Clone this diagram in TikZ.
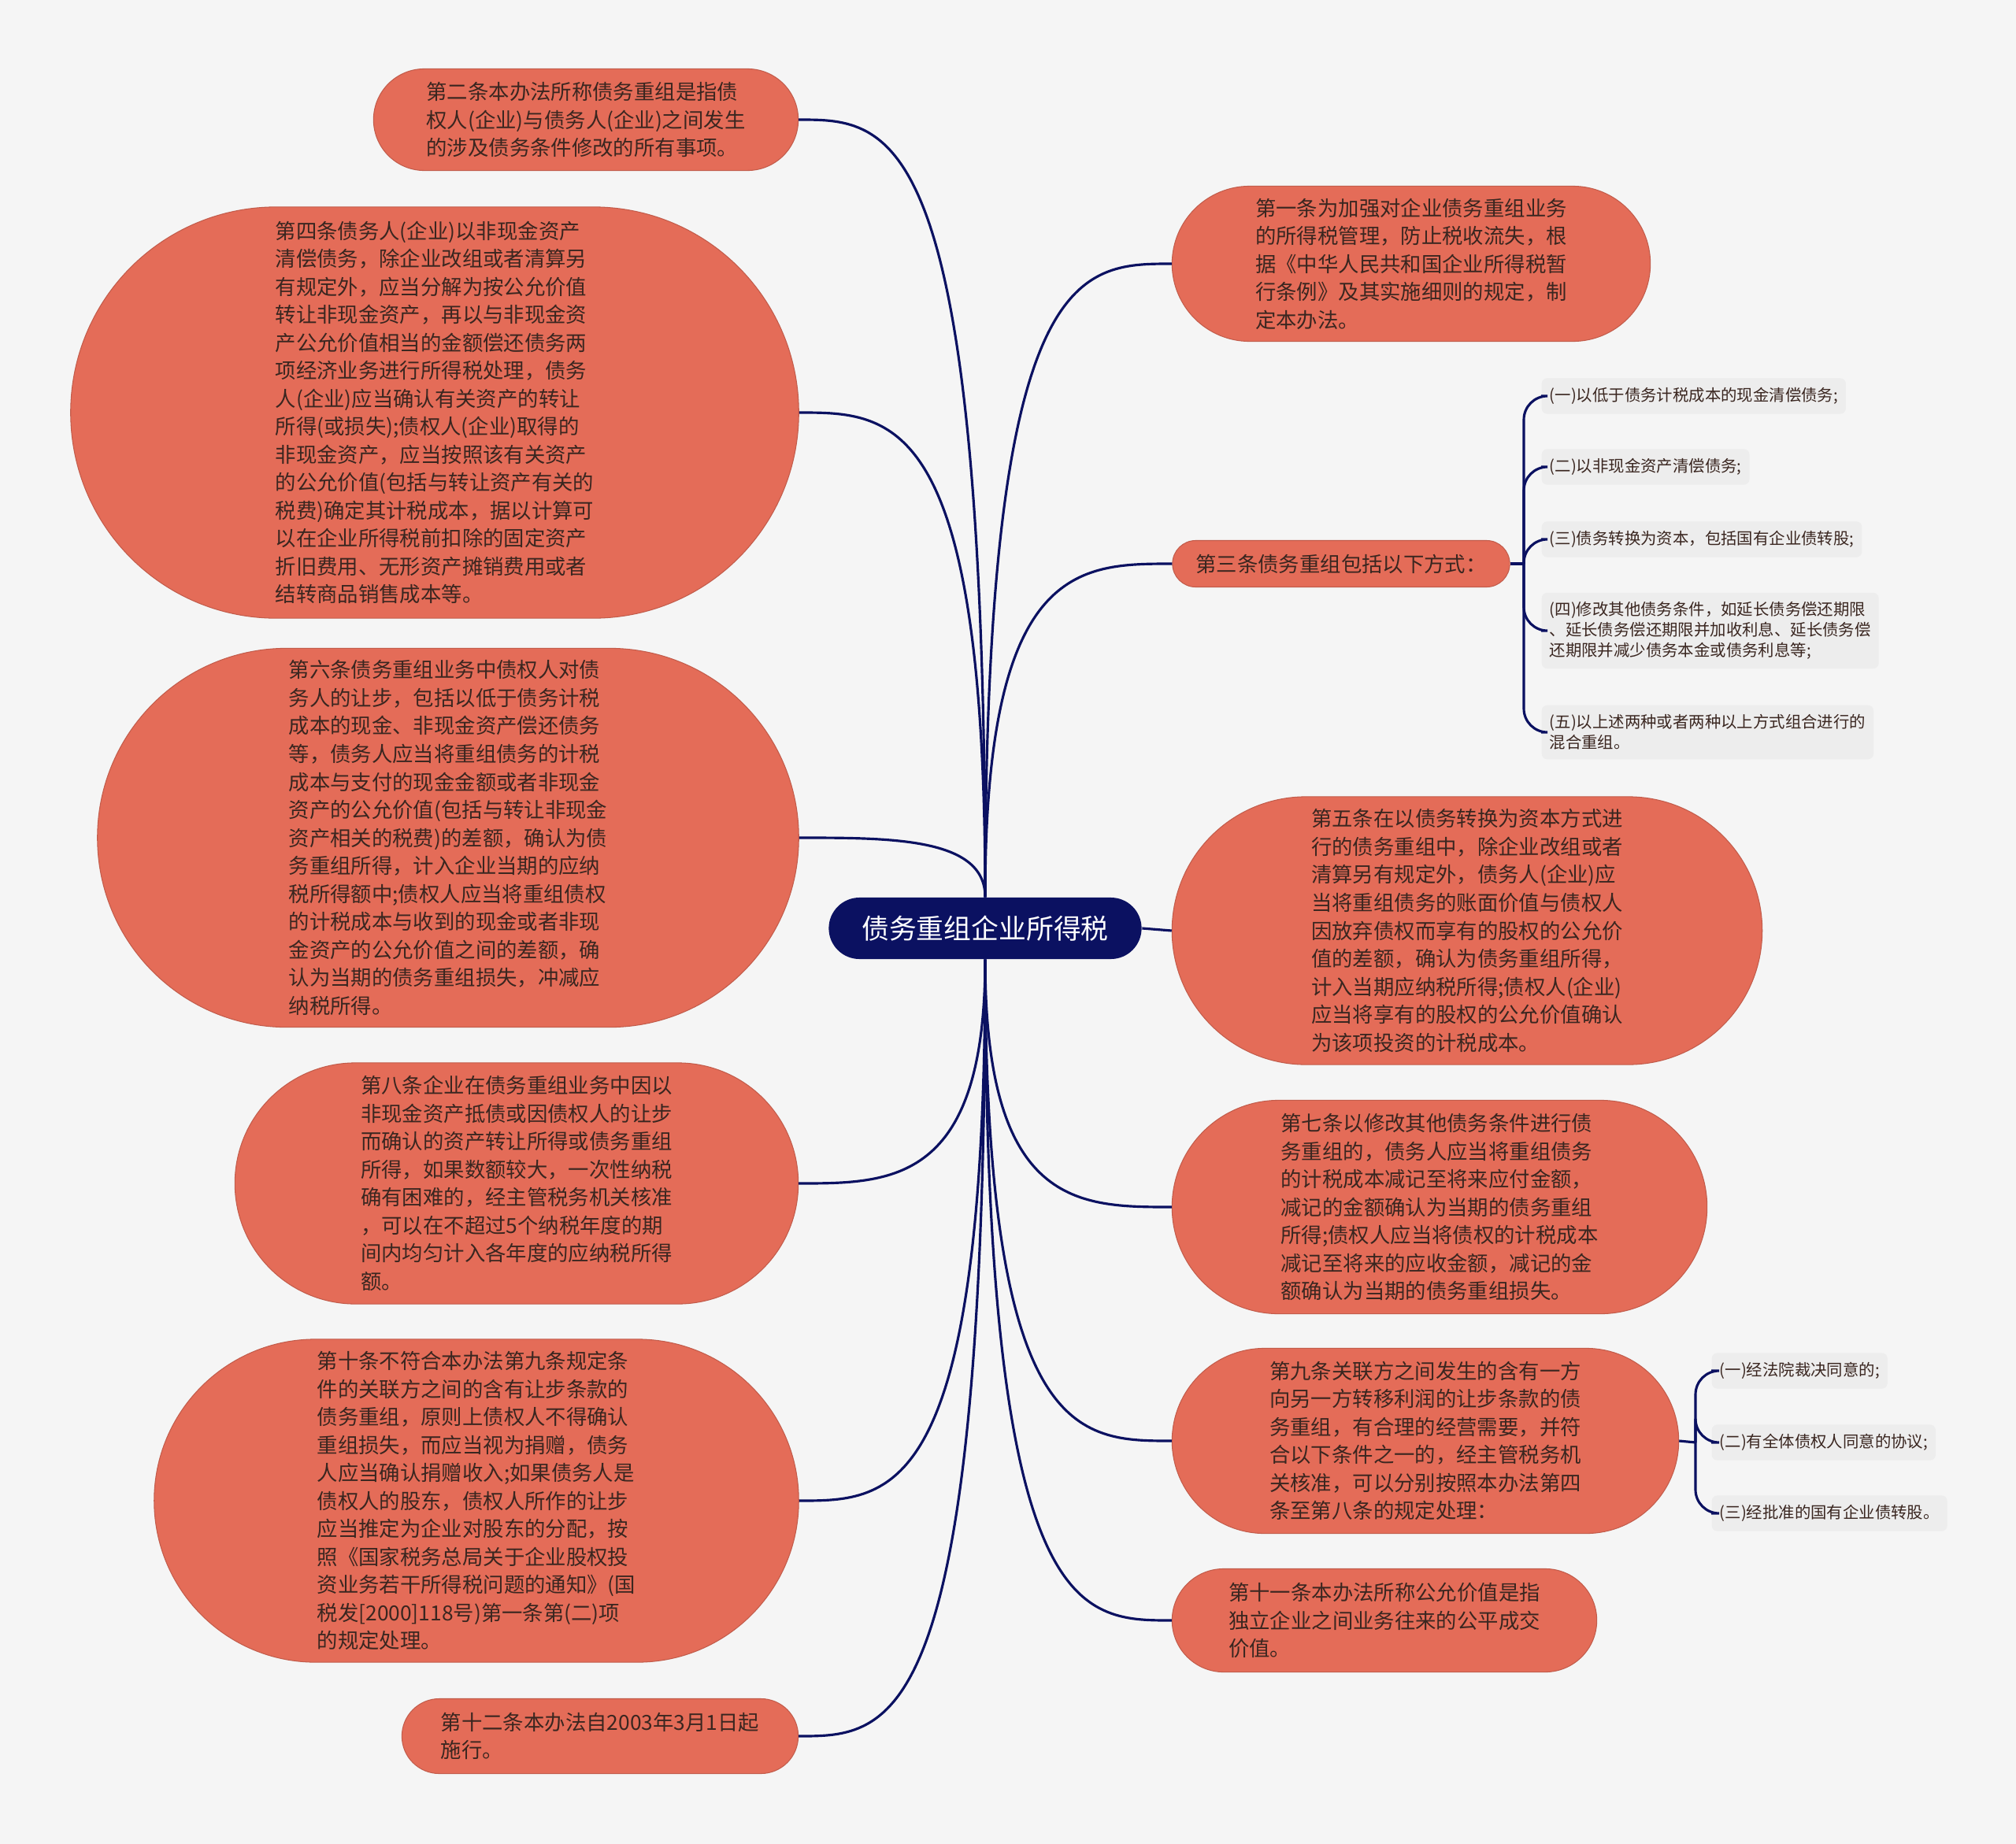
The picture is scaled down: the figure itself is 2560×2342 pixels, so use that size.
\documentclass[tikz,border=0pt]{standalone}
\usepackage{fontspec}
\newfontfamily\cjk{Noto Sans CJK SC}
\usetikzlibrary{calc}
\definecolor{bgcol}{HTML}{F5F5F5}
\definecolor{coral}{HTML}{E46C58}
\definecolor{navy}{HTML}{0B1161}
\definecolor{ink}{HTML}{3A2620}
\definecolor{itembg}{HTML}{EDEDED}

\begin{document}
\begin{tikzpicture}[x=0.01cm, y=-0.01cm,
      topic/.style={fill=coral, draw=coral!85!black, line width=0.3pt, text=ink, align=left,
                    inner sep=0pt, font=\cjk\fontsize{7.5pt}{10.1pt}\selectfont},
      hub/.style={fill=navy, text=white, inner sep=0pt, minimum width=3.97cm, minimum height=0.78cm,
                  rounded corners=0.39cm, font=\cjk\fontsize{9.9pt}{12pt}\selectfont},
      leaf/.style={fill=itembg, rounded corners=2pt, anchor=west, align=left, text=ink,
                   inner xsep=0.1cm, inner ysep=0.12cm, minimum height=0.45cm,
                   font=\cjk\fontsize{5.8pt}{7.3pt}\selectfont},
      conn/.style={draw=navy, line width=0.9pt}]
    \fill[bgcol] (0,0) rectangle (2560,2342);

    \node[hub] (hub) at (1251,1179) {债务重组企业所得税};

    \node[topic, minimum width=5.39cm, minimum height=1.29cm, rounded corners=0.645cm] (s2) at (744,152)
      {第二条本办法所称债务重组是指债\\权人(企业)与债务人(企业)之间发生\\的涉及债务条件修改的所有事项。};
    \node[topic, minimum width=9.24cm, minimum height=5.22cm, rounded corners=2.61cm] (s4) at (552,524)
      {第四条债务人(企业)以非现金资产\\清偿债务，除企业改组或者清算另\\有规定外，应当分解为按公允价值\\转让非现金资产，再以与非现金资\\产公允价值相当的金额偿还债务两\\项经济业务进行所得税处理，债务\\人(企业)应当确认有关资产的转让\\所得(或损失);债权人(企业)取得的\\非现金资产，应当按照该有关资产\\的公允价值(包括与转让资产有关的\\税费)确定其计税成本，据以计算可\\以在企业所得税前扣除的固定资产\\折旧费用、无形资产摊销费用或者\\结转商品销售成本等。};
    \node[topic, minimum width=8.9cm, minimum height=4.81cm, rounded corners=2.405cm] (s6) at (569,1064)
      {第六条债务重组业务中债权人对债\\务人的让步，包括以低于债务计税\\成本的现金、非现金资产偿还债务\\等，债务人应当将重组债务的计税\\成本与支付的现金金额或者非现金\\资产的公允价值(包括与转让非现金\\资产相关的税费)的差额，确认为债\\务重组所得，计入企业当期的应纳\\税所得额中;债权人应当将重组债权\\的计税成本与收到的现金或者非现\\金资产的公允价值之间的差额，确\\认为当期的债务重组损失，冲减应\\纳税所得。};
    \node[topic, minimum width=7.15cm, minimum height=3.06cm, rounded corners=1.53cm] (s8) at (656,1503)
      {第八条企业在债务重组业务中因以\\非现金资产抵债或因债权人的让步\\而确认的资产转让所得或债务重组\\所得，如果数额较大，一次性纳税\\确有困难的，经主管税务机关核准\\，可以在不超过5个纳税年度的期\\间内均匀计入各年度的应纳税所得\\额。};
    \node[topic, minimum width=8.18cm, minimum height=4.1cm, rounded corners=2.05cm] (s10) at (605,1906)
      {第十条不符合本办法第九条规定条\\件的关联方之间的含有让步条款的\\债务重组，原则上债权人不得确认\\重组损失，而应当视为捐赠，债务\\人应当确认捐赠收入;如果债务人是\\债权人的股东，债权人所作的让步\\应当推定为企业对股东的分配，按\\照《国家税务总局关于企业股权投\\资业务若干所得税问题的通知》(国\\税发[2000]118号)第一条第(二)项\\的规定处理。};
    \node[topic, minimum width=5.03cm, minimum height=0.95cm, rounded corners=0.475cm] (s12) at (762,2205)
      {第十二条本办法自2003年3月1日起\\施行。};

    \node[topic, minimum width=6.07cm, minimum height=1.97cm, rounded corners=0.985cm] (s1) at (1792,335)
      {第一条为加强对企业债务重组业务\\的所得税管理，防止税收流失，根\\据《中华人民共和国企业所得税暂\\行条例》及其实施细则的规定，制\\定本办法。};
    \node[topic, minimum width=4.28cm, minimum height=0.59cm, rounded corners=0.295cm] (s3) at (1703,716)
      {第三条债务重组包括以下方式：};
    \node[topic, minimum width=7.49cm, minimum height=3.4cm, rounded corners=1.7cm] (s5) at (1863,1182)
      {第五条在以债务转换为资本方式进\\行的债务重组中，除企业改组或者\\清算另有规定外，债务人(企业)应\\当将重组债务的账面价值与债权人\\因放弃债权而享有的股权的公允价\\值的差额，确认为债务重组所得，\\计入当期应纳税所得;债权人(企业)\\应当将享有的股权的公允价值确认\\为该项投资的计税成本。};
    \node[topic, minimum width=6.79cm, minimum height=2.71cm, rounded corners=1.355cm] (s7) at (1828,1533)
      {第七条以修改其他债务条件进行债\\务重组的，债务人应当将重组债务\\的计税成本减记至将来应付金额，\\减记的金额确认为当期的债务重组\\所得;债权人应当将债权的计税成本\\减记至将来的应收金额，减记的金\\额确认为当期的债务重组损失。};
    \node[topic, minimum width=6.43cm, minimum height=2.35cm, rounded corners=1.175cm] (s9) at (1810,1830)
      {第九条关联方之间发生的含有一方\\向另一方转移利润的让步条款的债\\务重组，有合理的经营需要，并符\\合以下条件之一的，经主管税务机\\关核准，可以分别按照本办法第四\\条至第八条的规定处理：};
    \node[topic, minimum width=5.39cm, minimum height=1.31cm, rounded corners=0.655cm] (s11) at (1758,2058)
      {第十一条本办法所称公允价值是指\\独立企业之间业务往来的公平成交\\价值。};

    \node[leaf] (s3a) at (1957,503) {(一)以低于债务计税成本的现金清偿债务;};
    \node[leaf] (s3b) at (1957,593) {(二)以非现金资产清偿债务;};
    \node[leaf] (s3c) at (1957,685) {(三)债务转换为资本，包括国有企业债转股;};
    \node[leaf] (s3d) at (1957,801) {(四)修改其他债务条件，如延长债务偿还期限\\、延长债务偿还期限并加收利息、延长债务偿\\还期限并减少债务本金或债务利息等;};
    \node[leaf] (s3e) at (1957,930) {(五)以上述两种或者两种以上方式组合进行的\\混合重组。};
    \node[leaf] (s9a) at (2173,1741) {(一)经法院裁决同意的;};
    \node[leaf] (s9b) at (2173,1832) {(二)有全体债权人同意的协议;};
    \node[leaf] (s9c) at (2173,1922) {(三)经批准的国有企业债转股。};

    \coordinate (c3) at (1935,716);
    \coordinate (c9) at (2153,1832);

    \foreach \n in {s2,s4,s6}
      \draw[conn] (hub.north) .. controls (hub.north |- \n.east) and ($(hub.north |- \n.east)!0.5!(\n.east)$) .. (\n.east);
    \foreach \n in {s8,s10,s12}
      \draw[conn] (hub.south) .. controls (hub.south |- \n.east) and ($(hub.south |- \n.east)!0.5!(\n.east)$) .. (\n.east);
    \foreach \n in {s1,s3}
      \draw[conn] (hub.north) .. controls (hub.north |- \n.west) and ($(hub.north |- \n.west)!0.5!(\n.west)$) .. (\n.west);
    \foreach \n in {s7,s9,s11}
      \draw[conn] (hub.south) .. controls (hub.south |- \n.west) and ($(hub.south |- \n.west)!0.5!(\n.west)$) .. (\n.west);
    \draw[conn] (hub.east) -- (s5.west);

    \draw[conn] (s3.east) -- (c3);
    \foreach \n in {s3a,s3b,s3c,s3d,s3e}
      \draw[conn, rounded corners=0.3cm] (c3) |- (\n.west);
    \draw[conn] (s9.east) -- (c9);
    \foreach \n in {s9a,s9b,s9c}
      \draw[conn, rounded corners=0.3cm] (c9) |- (\n.west);
  \end{tikzpicture}
\end{document}
